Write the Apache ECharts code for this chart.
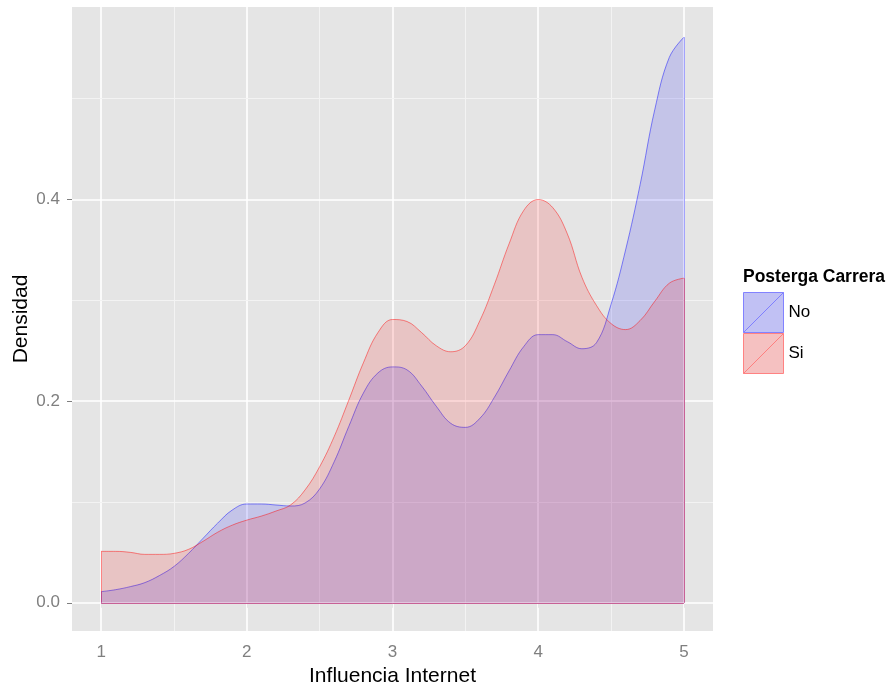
<!DOCTYPE html>
<html>
<head>
<meta charset="utf-8">
<script src="https://cdn.jsdelivr.net/npm/echarts@6/dist/echarts.min.js"></script>
<style>
html,body{margin:0;padding:0;background:#fff;}
#chart{width:893px;height:688px;}
</style>
</head>
<body>
<div id="chart"></div>
<script>
// ---- data ----
const xValues = [1.0,1.1,1.2,1.3,1.4,1.5,1.6,1.7,1.8,1.9,2.0,2.1,2.2,2.3,2.4,2.5,2.6,2.7,2.8,2.9,3.0,
                 3.1,3.2,3.3,3.4,3.5,3.6,3.7,3.8,3.9,4.0,4.1,4.2,4.3,4.4,4.5,4.6,4.7,4.8,4.9,5.0];
const densNo = [0.011,0.013,0.016,0.020,0.027,0.036,0.049,0.064,0.079,0.092,0.098,0.098,0.097,0.096,0.099,0.113,0.140,0.175,0.208,0.228,0.234,
                0.231,0.215,0.195,0.178,0.174,0.183,0.204,0.230,0.254,0.266,0.266,0.259,0.252,0.258,0.296,0.350,0.415,0.489,0.541,0.561];
const densSi = [0.051,0.051,0.050,0.048,0.048,0.049,0.053,0.061,0.070,0.077,0.082,0.086,0.091,0.097,0.112,0.135,0.165,0.201,0.238,0.268,0.281,
                0.279,0.268,0.255,0.249,0.255,0.280,0.316,0.356,0.389,0.400,0.392,0.366,0.323,0.295,0.277,0.271,0.280,0.299,0.317,0.322];
const groups = ['No', 'Si'];
const xTicks = [1, 2, 3, 4, 5];
const xMinor = [1.5, 2.5, 3.5, 4.5];
const yTicks = [0, 0.2, 0.4];
const yMinor = [0.1, 0.3, 0.5];
const xTitle = 'Influencia Internet';
const yTitle = 'Densidad';
const legendTitle = 'Posterga Carrera';

// ---- build ----
const FONT = 'Liberation Sans, Arial, sans-serif';
const x0 = xValues[0], x1 = xValues[xValues.length - 1];
function buildData(vals) { return xValues.map((x, i) => [x, vals[i]]); }
function edges(vals, color) {
  return {
    silent: true, symbol: 'none', label: {show: false}, z: 4,
    lineStyle: {color: color, width: 1, type: 'solid'},
    emphasis: {disabled: true},
    data: [
      [{coord: [x0, 0]}, {coord: [x0, vals[0]]}],
      [{coord: [x1, 0]}, {coord: [x1, vals[vals.length - 1]]}],
      [{coord: [x0, 0]}, {coord: [x1, 0]}]
    ]
  };
}
const gridLines = [];
xTicks.forEach(v => gridLines.push({xAxis: v, lineStyle: {color: '#ffffff', width: 1.6, type: 'solid'}}));
xMinor.forEach(v => gridLines.push({xAxis: v, lineStyle: {color: '#f3f3f3', width: 1, type: 'solid'}}));
yTicks.forEach(v => gridLines.push({yAxis: v, lineStyle: {color: '#ffffff', width: 1.6, type: 'solid'}}));
yMinor.forEach(v => gridLines.push({yAxis: v, lineStyle: {color: '#f3f3f3', width: 1, type: 'solid'}}));

const chart = echarts.init(document.getElementById('chart'), null, {renderer: 'canvas'});
chart.setOption({
  animation: false,
  backgroundColor: '#ffffff',
  textStyle: {fontFamily: FONT},
  title: {
    text: legendTitle, left: 743, top: 268, padding: 0,
    textStyle: {fontFamily: FONT, fontSize: 17.5, fontWeight: 'bold', color: '#000'}
  },
  legend: {
    orient: 'vertical', left: 743, top: 292, padding: 0, itemGap: 0,
    itemWidth: 40, itemHeight: 40,
    textStyle: {fontFamily: FONT, fontSize: 17, color: '#000'},
    data: [
      {name: 'No', icon: 'path://M0,0L40,0L40,40L0,40ZM0,40L40,0',
       itemStyle: {color: 'rgb(193,193,244)', borderColor: 'rgba(120,120,255,0.9)', borderWidth: 1}},
      {name: 'Si', icon: 'path://M0,0L40,0L40,40L0,40ZM0,40L40,0',
       itemStyle: {color: 'rgb(245,193,193)', borderColor: 'rgba(255,120,120,0.9)', borderWidth: 1}}
    ],
    selectedMode: false
  },
  grid: {
    left: 72, right: 180, top: 7, bottom: 57,
    containLabel: false, outerBoundsMode: 'none',
    show: true, backgroundColor: '#e5e5e5', borderWidth: 0
  },
  xAxis: {
    type: 'value', min: 0.8, max: 5.2,
    name: xTitle, nameLocation: 'middle', nameGap: 35, nameMoveOverlap: false,
    nameTextStyle: {fontFamily: FONT, fontSize: 21, color: '#000'},
    axisLine: {show: false},
    axisTick: {show: true, length: 5, lineStyle: {color: '#7f7f7f'}, customValues: xTicks},
    axisLabel: {margin: 13, fontSize: 17, color: '#7f7f7f', fontFamily: FONT, customValues: xTicks,
                formatter: v => String(v)},
    splitLine: {show: false}
  },
  yAxis: {
    type: 'value', min: -0.028, max: 0.591,
    name: yTitle, nameLocation: 'middle', nameGap: 40, nameMoveOverlap: false,
    nameTextStyle: {fontFamily: FONT, fontSize: 21, color: '#000'},
    axisLine: {show: false},
    axisTick: {show: true, length: 5, lineStyle: {color: '#7f7f7f'}, customValues: yTicks},
    axisLabel: {margin: 12, fontSize: 17, color: '#7f7f7f', fontFamily: FONT, customValues: yTicks,
                formatter: v => v.toFixed(1)},
    splitLine: {show: false}
  },
  series: [
    {
      name: '__grid', type: 'line', data: [], z: 1, silent: true,
      markLine: {silent: true, symbol: 'none', z: 1, label: {show: false}, animation: false,
                 emphasis: {disabled: true}, data: gridLines}
    },
    {
      name: groups[0], type: 'line', data: buildData(densNo), z: 2,
      smooth: 0.4, showSymbol: false, symbol: 'none',
      lineStyle: {color: 'rgba(0,0,255,0.45)', width: 1},
      itemStyle: {color: 'rgba(0,0,255,0.45)'},
      areaStyle: {color: 'rgba(0,0,255,0.2)', origin: 0},
      markLine: edges(densNo, 'rgba(0,0,255,0.35)')
    },
    {
      name: groups[1], type: 'line', data: buildData(densSi), z: 3,
      smooth: 0.4, showSymbol: false, symbol: 'none',
      lineStyle: {color: 'rgba(255,0,0,0.45)', width: 1},
      itemStyle: {color: 'rgba(255,0,0,0.45)'},
      areaStyle: {color: 'rgba(255,0,0,0.2)', origin: 0},
      markLine: edges(densSi, 'rgba(255,0,0,0.4)')
    }
  ]
});
</script>
</body>
</html>
